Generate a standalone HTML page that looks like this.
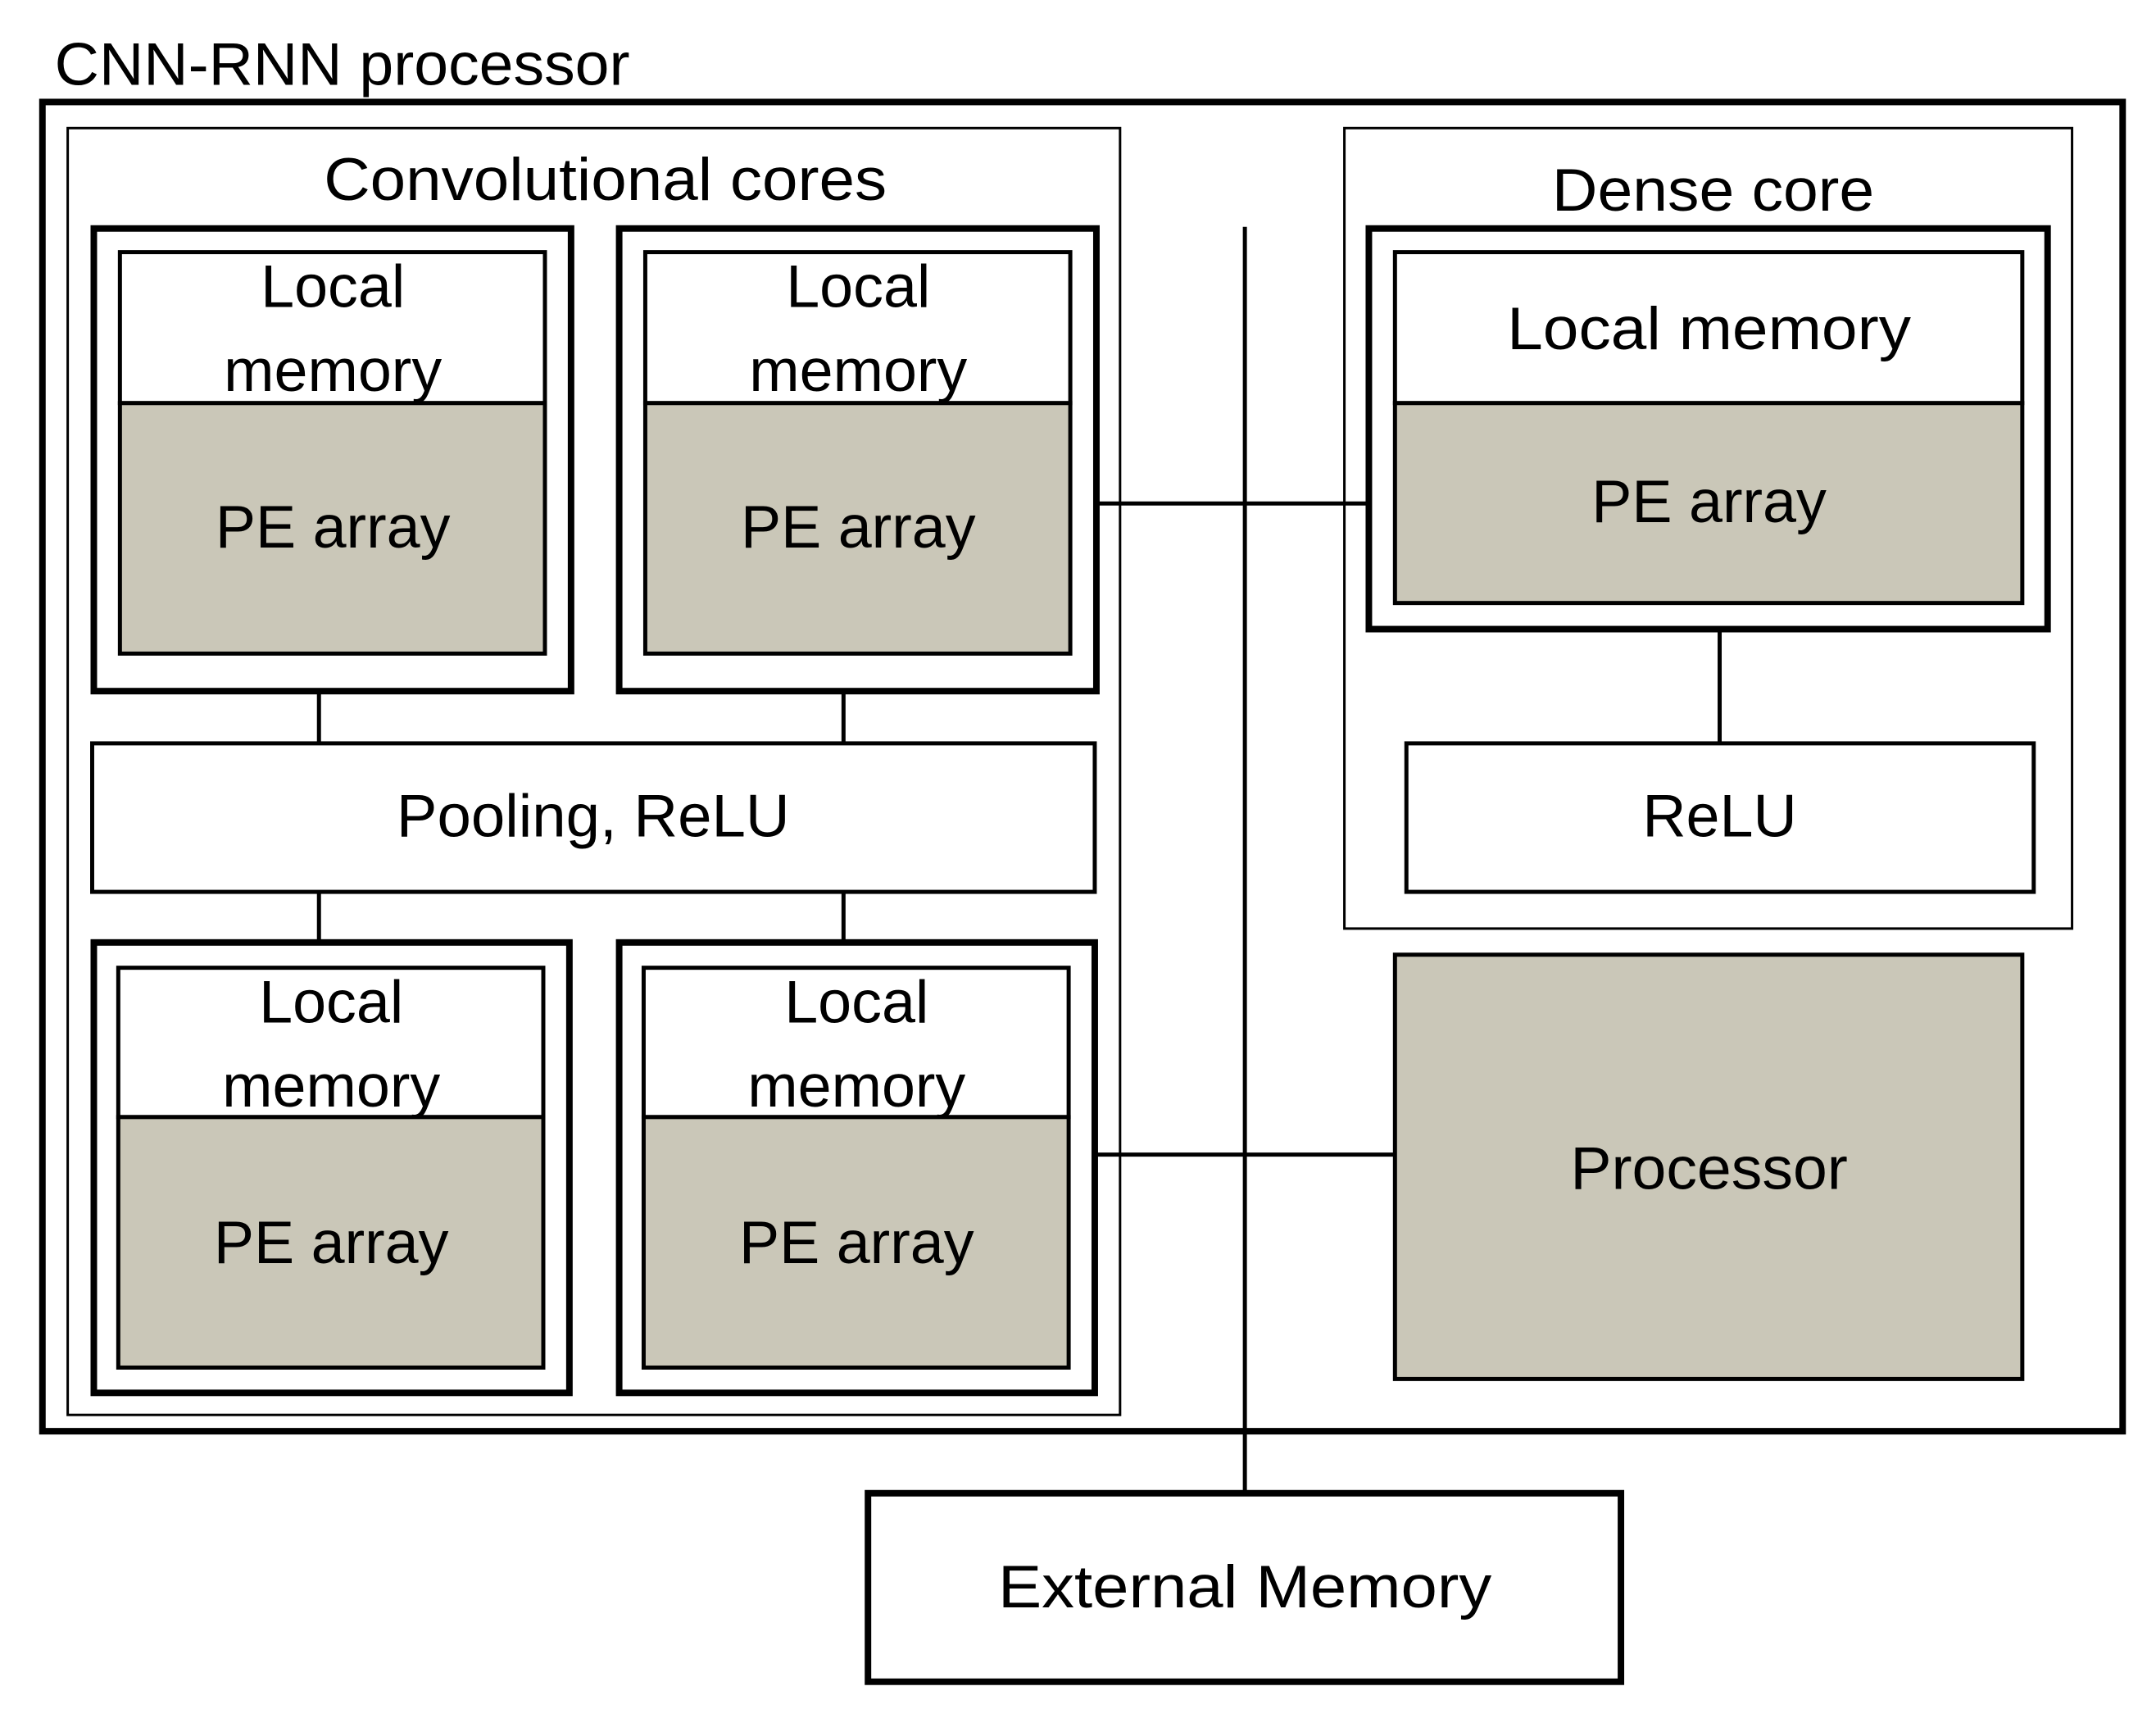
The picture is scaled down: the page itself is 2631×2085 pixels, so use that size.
<!DOCTYPE html>
<html><head><meta charset="utf-8"><style>html,body{margin:0;padding:0;background:#fff}svg{display:block}</style></head>
<body>
<svg width="2631" height="2085" viewBox="0 0 2631 2085" xmlns="http://www.w3.org/2000/svg" font-family="Liberation Sans, sans-serif" font-size="74" text-anchor="middle" fill="#000">
<g transform="scale(0.9955)">
<g fill="none" stroke="#000">
<rect x="52" y="125" width="2550" height="1629" stroke-width="8"/>
<rect x="83" y="157" width="1290" height="1577" stroke-width="3"/>
<rect x="1648" y="157" width="892" height="981" stroke-width="3"/>
<line x1="1526" y1="278" x2="1526" y2="1830" stroke-width="5"/>
<line x1="1344" y1="617" x2="1678" y2="617" stroke-width="5"/>
<line x1="1344" y1="1415" x2="1710" y2="1415" stroke-width="5"/>
<line x1="391" y1="847" x2="391" y2="911" stroke-width="5"/>
<line x1="1034" y1="847" x2="1034" y2="911" stroke-width="5"/>
<line x1="391" y1="1093" x2="391" y2="1155" stroke-width="5"/>
<line x1="1034" y1="1093" x2="1034" y2="1155" stroke-width="5"/>
<line x1="2108" y1="771" x2="2108" y2="911" stroke-width="5"/>
</g>
<g stroke="#000">
<rect x="115" y="280" width="585" height="567" fill="#fff" stroke-width="8"/>
<rect x="147" y="309" width="521" height="185" fill="#fff" stroke-width="5"/>
<rect x="147" y="494" width="521" height="307" fill="#CAC7B8" stroke-width="5"/>
<rect x="759" y="280" width="585" height="567" fill="#fff" stroke-width="8"/>
<rect x="791" y="309" width="521" height="185" fill="#fff" stroke-width="5"/>
<rect x="791" y="494" width="521" height="307" fill="#CAC7B8" stroke-width="5"/>
<rect x="113" y="911" width="1229" height="182" fill="#fff" stroke-width="5"/>
<rect x="115" y="1155" width="583" height="552" fill="#fff" stroke-width="8"/>
<rect x="145" y="1186" width="521" height="183" fill="#fff" stroke-width="5"/>
<rect x="145" y="1369" width="521" height="307" fill="#CAC7B8" stroke-width="5"/>
<rect x="759" y="1155" width="583" height="552" fill="#fff" stroke-width="8"/>
<rect x="789" y="1186" width="521" height="183" fill="#fff" stroke-width="5"/>
<rect x="789" y="1369" width="521" height="307" fill="#CAC7B8" stroke-width="5"/>
<rect x="1678" y="280" width="832" height="491" fill="#fff" stroke-width="8"/>
<rect x="1710" y="309" width="769" height="185" fill="#fff" stroke-width="5"/>
<rect x="1710" y="494" width="769" height="245" fill="#CAC7B8" stroke-width="5"/>
<rect x="1724" y="911" width="769" height="182" fill="#fff" stroke-width="5"/>
<rect x="1710" y="1170" width="769" height="520" fill="#CAC7B8" stroke-width="5"/>
<rect x="1064" y="1830" width="923" height="231" fill="#fff" stroke-width="8"/>
</g>
<g stroke="none">
<text x="67" y="104" text-anchor="start" textLength="705" lengthAdjust="spacingAndGlyphs">CNN-RNN processor</text>
<text x="742" y="245" textLength="690" lengthAdjust="spacingAndGlyphs">Convolutional cores</text>
<text x="2100" y="258" textLength="395" lengthAdjust="spacingAndGlyphs">Dense core</text>
<text x="408" y="376">Local</text><text x="408" y="479">memory</text><text x="408" y="671">PE array</text>
<text x="1052" y="376">Local</text><text x="1052" y="479">memory</text><text x="1052" y="671">PE array</text>
<text x="727" y="1025" textLength="482" lengthAdjust="spacingAndGlyphs">Pooling, ReLU</text>
<text x="406" y="1253">Local</text><text x="406" y="1356">memory</text><text x="406" y="1548">PE array</text>
<text x="1050" y="1253">Local</text><text x="1050" y="1356">memory</text><text x="1050" y="1548">PE array</text>
<text x="2095" y="428" textLength="495" lengthAdjust="spacingAndGlyphs">Local memory</text>
<text x="2095" y="640">PE array</text>
<text x="2108" y="1025">ReLU</text>
<text x="2095" y="1457" textLength="340" lengthAdjust="spacingAndGlyphs">Processor</text>
<text x="1526" y="1970" textLength="605" lengthAdjust="spacingAndGlyphs">External Memory</text>
</g>
</g>
</svg>
</body></html>
